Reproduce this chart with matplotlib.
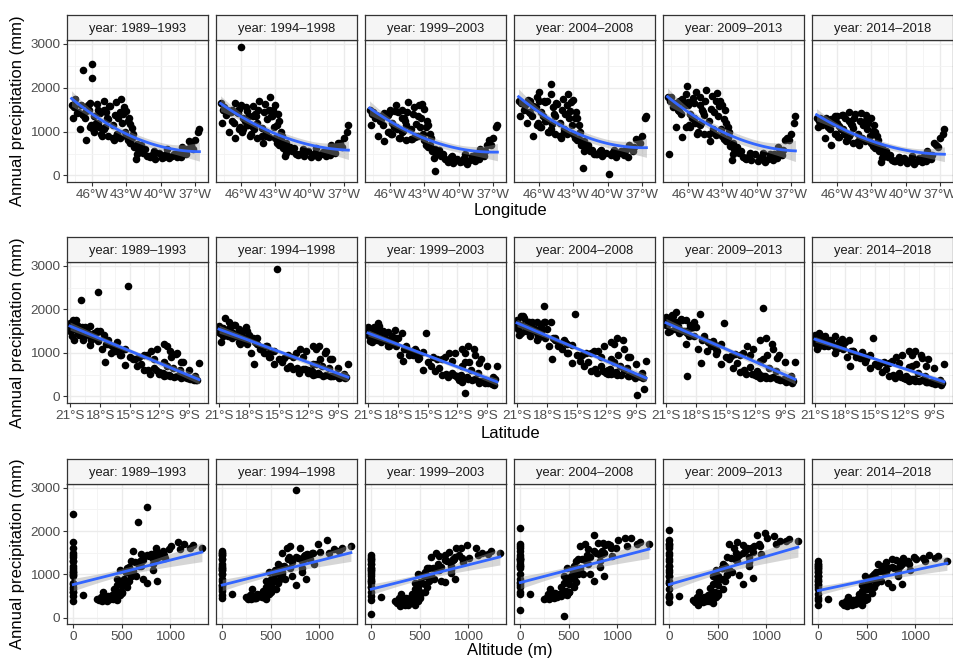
import numpy as np
import matplotlib
matplotlib.use("Agg")
import matplotlib.pyplot as plt
from matplotlib.ticker import FixedLocator, FuncFormatter

plt.rcParams['font.family'] = ['Liberation Sans', 'DejaVu Sans']

periods = ['1989–1993', '1994–1998', '1999–2003', '2004–2008', '2009–2013', '2014–2018']

# stations: longitude, latitude, altitude (m)
lon = [-47.6, -47.3, -47.0, -46.8, -46.5, -46.2, -46.0, -46.0, -45.8, -45.5,
       -45.3, -45.0, -44.8, -44.6, -44.4, -44.2, -44.0, -43.9, -43.7, -43.5,
       -43.4, -43.2, -43.0, -42.8, -42.7, -42.5, -45.9, -46.6, -47.2, -44.9,
       -43.8, -42.9, -45.6, -44.5, -46.3, -43.3, -44.1, -43.6, -45.1, -47.8,
       -46.2, -45.5, -45.0, -44.6, -45.8, -44.2, -46.5, -43.8, -43.0, -42.7,
       -42.5, -42.3, -42.1, -42.0, -41.8, -41.7, -41.5, -42.9, -42.4, -41.4,
       -41.2, -40.9, -40.7, -40.5, -39.9, -40.1, -39.7, -39.5, -39.3, -39.0,
       -38.8, -38.6, -38.4, -38.2, -38.0, -37.8, -41.0, -40.6, -39.6, -37.7,
       -46.8, -47.5, -46.9, -45.7, -47.1, -45.0, -45.2, -43.1, -47.7, -36.6,
       -36.7, -37.0, -37.3, -37.5, -37.2, -38.1, -42.1, -39.4, -42.2, -38.5,
       -46.1, -46.4, -44.7, -45.4, -43.6]

lat = [-20.5, -20.1, -19.8, -20.8, -19.4, -20.3, -19.9, -15.2, -18.7, -21.0,
       -17.6, -20.6, -19.2, -18.2, -20.0, -16.8, -19.6, -21.0, -18.9, -20.4,
       -17.2, -19.9, -18.3, -20.6, -19.0, -17.8, -16.5, -17.2, -18.6, -15.5,
       -15.9, -16.3, -19.0, -21.0, -18.0, -18.6, -17.5, -14.5, -14.0, -19.5,
       -12.2, -11.5, -12.8, -10.8, -10.2, -12.5, -9.8, -13.2, -15.0, -13.8,
       -14.7, -12.5, -15.5, -13.1, -11.8, -14.2, -12.9, -11.5, -16.0, -13.5,
       -10.5, -9.2, -11.3, -8.5, -8.9, -11.8, -9.8, -10.9, -8.3, -9.5,
       -11.0, -8.7, -10.2, -9.1, -11.6, -8.4, -9.7, -12.0, -11.5, -9.9,
       -18.2, -20.7, -19.0, -17.4, -16.0, -18.3, -13.5, -16.9, -18.9, -10.9,
       -10.3, -9.6, -11.2, -8.0, -9.0, -10.6, -11.2, -12.3, -8.2, -12.0,
       -11.2, -20.9, -19.7, -16.2, -20.2]

alt = [620, 780, 860, 950, 700, 1010, 670, 760, 820, 880,
       910, 1150, 760, 640, 990, 560, 870, 1240, 720, 1080,
       680, 930, 800, 690, 580, 620, 540, 600, 940, 820,
       650, 820, 1210, 1100, 840, 850, 760, 870, 720, 1330,
       480, 700, 550, 450, 620, 500, 560, 600, 520, 450,
       580, 420, 500, 470, 440, 560, 400, 480, 600, 500,
       420, 380, 460, 350, 450, 480, 330, 380, 300, 410,
       360, 270, 320, 250, 440, 290, 340, 500, 390, 310,
       0, 0, 0, 0, 0, 0, 0, 0, 0, 0,
       0, 0, 0, 0, 0, 0, 0, 0, 0, 100,
       0, 0, 0, 0, 0]

# annual precipitation (mm) per period
p1989 = [1550, 1420, 1600, 1380, 1480, 1650, 2220, 2550, 1350, 1500,
         1420, 1700, 1450, 1280, 1580, 1150, 1380, 1680, 1320, 1750,
         1200, 1550, 1480, 1300, 1180, 1080, 1050, 1300, 1450, 1100,
         950, 1250, 1620, 1580, 1500, 1400, 800, 850, 900, 1600,
         1100, 1200, 1050, 900, 1000, 850, 800, 950, 900, 750,
         850, 650, 720, 600, 550, 700, 520, 800, 950, 600,
         450, 420, 500, 380, 400, 520, 430, 480, 390, 440,
         500, 410, 460, 430, 550, 480, 440, 560, 470, 600,
         2400, 1750, 1400, 1200, 1050, 1500, 950, 1000, 1300, 1050,
         980, 800, 700, 780, 600, 650, 500, 600, 380, 520,
         1150, 1600, 1300, 1100, 1450]

p1994 = [1500, 1380, 1450, 1250, 1650, 1520, 1600, 2940, 1300, 1480,
         1350, 1580, 1400, 1200, 1700, 1080, 1450, 1620, 1280, 1800,
         1350, 1500, 1600, 1400, 1250, 1000, 1000, 1200, 1500, 1050,
         900, 1150, 1550, 1500, 1420, 1350, 750, 880, 950, 1650,
         1050, 1150, 1100, 850, 1050, 900, 850, 1000, 850, 700,
         800, 620, 750, 650, 580, 650, 550, 750, 900, 620,
         480, 500, 520, 450, 430, 550, 460, 520, 420, 480,
         540, 440, 500, 470, 580, 520, 460, 600, 500, 650,
         1500, 1550, 1450, 1250, 1000, 1350, 900, 1100, 1200, 1150,
         1000, 850, 750, 750, 650, 700, 520, 620, 450, 550,
         1100, 1450, 1350, 1150, 1500]

p1999 = [1400, 1300, 1350, 1280, 1420, 1380, 1500, 1450, 1200, 1600,
         1450, 1500, 1320, 1150, 1680, 1050, 1400, 1550, 1180, 1600,
         1100, 1620, 1520, 1250, 1150, 950, 950, 1150, 1380, 1020,
         880, 1100, 1480, 1450, 1350, 1320, 820, 900, 850, 1500,
         1000, 1100, 1000, 800, 950, 820, 780, 900, 800, 650,
         700, 550, 600, 520, 480, 580, 450, 700, 850, 500,
         380, 300, 420, 280, 300, 380, 320, 400, 260, 350,
         450, 330, 400, 380, 500, 450, 360, 450, 340, 550,
         1350, 1450, 1250, 1100, 900, 1300, 850, 950, 1150, 1150,
         1100, 850, 800, 700, 700, 600, 90, 500, 400, 480,
         1000, 1400, 1250, 1050, 1350]

p2004 = [1650, 1500, 1720, 1420, 1580, 1800, 1700, 1900, 1450, 1680,
         1700, 1850, 1550, 1350, 1620, 1200, 1500, 1750, 1400, 1850,
         1300, 1680, 1720, 1450, 1300, 1150, 1100, 1350, 1600, 1180,
         1000, 1300, 1700, 1650, 1550, 1480, 850, 950, 1000, 1700,
         1150, 1250, 1050, 950, 1100, 900, 900, 1050, 950, 800,
         820, 700, 780, 620, 600, 700, 550, 850, 1000, 580,
         500, 480, 550, 450, 30, 520, 470, 500, 430, 520,
         560, 460, 600, 420, 620, 550, 480, 580, 510, 650,
         1700, 1650, 1450, 1350, 1200, 2080, 1000, 1150, 1350, 1350,
         1300, 900, 800, 820, 750, 700, 550, 580, 180, 550,
         1200, 1550, 1400, 1250, 1600]

p2009 = [1700, 1550, 1620, 1480, 1750, 1850, 1600, 1680, 1400, 1650,
         1900, 1780, 1500, 1380, 1950, 1250, 1520, 1820, 1450, 1880,
         1350, 1700, 1600, 1500, 1200, 1100, 1150, 1400, 1650, 1200,
         1050, 1280, 1760, 1700, 1600, 1580, 780, 920, 980, 1780,
         1100, 1300, 1150, 950, 1100, 950, 880, 1000, 900, 780,
         850, 680, 750, 600, 580, 650, 520, 820, 980, 560,
         420, 380, 450, 350, 330, 480, 400, 420, 300, 380,
         480, 350, 450, 400, 520, 470, 400, 520, 430, 580,
         1700, 1800, 1500, 1300, 1100, 1600, 950, 1050, 480, 1350,
         1200, 950, 850, 800, 800, 650, 480, 520, 350, 500,
         2030, 1650, 1450, 1200, 1700]

p2014 = [1250, 1150, 1300, 1100, 1280, 1350, 1200, 1350, 1120, 1380,
         1300, 1450, 1180, 1080, 1400, 950, 1250, 1420, 1150, 1380,
         1050, 1300, 1320, 1150, 1000, 900, 880, 1050, 1250, 950,
         850, 1020, 1380, 1300, 1250, 1200, 700, 780, 800, 1300,
         950, 1050, 900, 750, 880, 780, 700, 820, 750, 620,
         700, 550, 650, 500, 480, 560, 430, 680, 800, 470,
         350, 320, 380, 300, 280, 400, 330, 360, 260, 340,
         400, 300, 380, 330, 420, 380, 330, 430, 350, 470,
         1200, 1300, 1150, 1050, 850, 1250, 780, 900, 1100, 1050,
         950, 850, 700, 750, 650, 550, 400, 450, 300, 420,
         950, 1200, 1150, 950, 1250]

precip = [p1989, p1994, p1999, p2004, p2009, p2014]


def fit_band(x, y, deg, xs):
    X = np.vander(x, deg + 1)
    coef, *_ = np.linalg.lstsq(X, y, rcond=None)
    resid = y - X @ coef
    s2 = resid @ resid / (len(x) - deg - 1)
    cov = np.linalg.inv(X.T @ X) * s2
    Xs = np.vander(xs, deg + 1)
    se = np.sqrt(np.einsum('ij,jk,ik->i', Xs, cov, Xs))
    return Xs @ coef, 1.98 * se


W, H = 954, 664
fig = plt.figure(figsize=(W / 100, H / 100), dpi=100)

col_left = [67, 216, 365, 514, 663, 812]
pw = 141
strip_h = 25

rows = [
    dict(x=lon, top=40, bottom=182, xlim=(-48.2, -35.85), ticks=[-46, -43, -40, -37],
         minor=[-47.5, -44.5, -41.5, -38.5], fmt=lambda v, _: f"{-v:.0f}°W",
         deg=2, label='Longitude', label_y=211),
    dict(x=lat, top=262, bottom=403, xlim=(-21.3, -7.1), ticks=[-21, -18, -15, -12, -9],
         minor=[-19.5, -16.5, -13.5, -10.5, -7.5], fmt=lambda v, _: f"{-v:.0f}°S",
         deg=1, label='Latitude', label_y=433),
    dict(x=alt, top=484, bottom=624, xlim=(-65, 1393), ticks=[0, 500, 1000],
         minor=[250, 750, 1250], fmt=lambda v, _: f"{v:.0f}",
         deg=1, label='Altitude (m)', label_y=651),
]

for row in rows:
    x = np.array(row['x'], dtype=float)
    xs = np.linspace(x.min(), x.max(), 100)
    for j, period in enumerate(periods):
        y = np.array(precip[j], dtype=float)
        left = col_left[j]
        ax = fig.add_axes([left / W, 1 - row['bottom'] / H, pw / W,
                           (row['bottom'] - row['top']) / H])
        ax.set_facecolor('white')
        ax.set_xlim(*row['xlim'])
        ax.set_ylim(-150, 3090)
        ax.xaxis.set_major_locator(FixedLocator(row['ticks']))
        ax.xaxis.set_minor_locator(FixedLocator(row['minor']))
        ax.xaxis.set_major_formatter(FuncFormatter(row['fmt']))
        ax.yaxis.set_major_locator(FixedLocator([0, 1000, 2000, 3000]))
        ax.yaxis.set_minor_locator(FixedLocator([500, 1500, 2500]))
        ax.grid(which='major', color='#EBEBEB', lw=1.0)
        ax.grid(which='minor', color='#F3F3F3', lw=0.6)
        ax.set_axisbelow(True)
        for s in ax.spines.values():
            s.set_color('#333333')
            s.set_linewidth(0.9)
        ax.tick_params(which='major', colors='#333333', labelcolor='#4D4D4D',
                       labelsize=9.7, length=3, width=0.8, pad=2)
        ax.tick_params(which='minor', length=0)
        if j > 0:
            ax.tick_params(axis='y', which='both', left=False, labelleft=False)

        ax.scatter(x, y, s=30, c='black', linewidths=0, zorder=2)
        fit, band = fit_band(x, y, row['deg'], xs)
        ax.fill_between(xs, fit - band, fit + band, color='#999999', alpha=0.4,
                        lw=0, zorder=3)
        ax.plot(xs, fit, color='#3366FF', lw=2.0, zorder=4)

        sax = fig.add_axes([left / W, 1 - row['top'] / H, pw / W, strip_h / H])
        sax.set_facecolor('#F5F5F5')
        sax.set_xticks([])
        sax.set_yticks([])
        for s in sax.spines.values():
            s.set_color('#333333')
            s.set_linewidth(0.9)
        sax.text(0.5, 0.45, f"year: {period}", ha='center', va='center',
                 fontsize=9.3, color='#1A1A1A', transform=sax.transAxes)

    fig.text(510 / W, 1 - row['label_y'] / H, row['label'], ha='center',
             va='center', fontsize=12)
    mid = (row['top'] + row['bottom']) / 2
    fig.text(18 / W, 1 - mid / H, 'Annual precipitation (mm)', rotation=90,
             ha='center', va='center', fontsize=12)

fig.savefig('out.png', dpi=100)
